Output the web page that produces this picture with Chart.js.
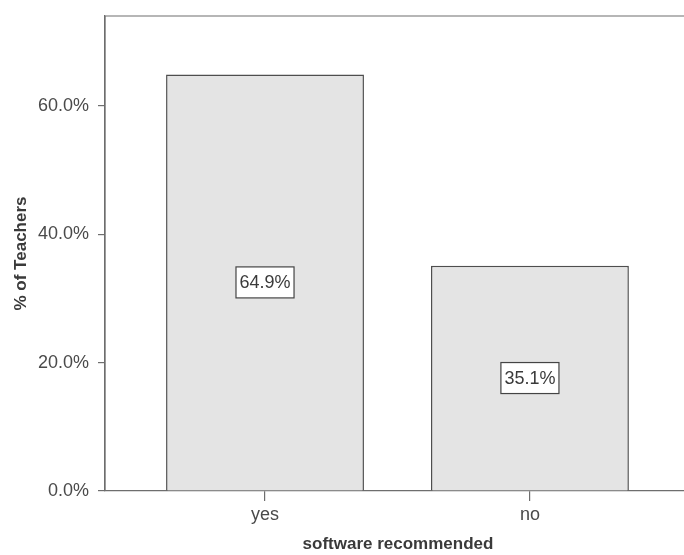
<!DOCTYPE html>
<html>
<head>
<meta charset="utf-8">
<script src="https://cdn.jsdelivr.net/npm/chart.js@4"></script>
<style>
  html, body { margin: 0; padding: 0; background: #fff; overflow: hidden; }
  #wrap { position: relative; width: 700px; height: 555px; }
</style>
</head>
<body>
<div id="wrap"><canvas id="c"></canvas></div>
<script>
// ---- data ----
const categories = ['yes', 'no'];
const percentValues = [64.9, 35.1];
const yTickValues = [0, 20, 40, 60];
const xTitle = 'software recommended';
const yTitle = '% of Teachers';

const FONT = '"Liberation Sans", Arial, sans-serif';
const TEXT = '#4a4a4a';
const LINE = '#6e6e6e';

const frame = {
  id: 'frame',
  afterDatasetsDraw(chart) {
    const a = chart.chartArea, ctx = chart.ctx;
    ctx.save();
    ctx.strokeStyle = LINE;
    ctx.lineWidth = 1.2;
    ctx.beginPath();
    ctx.moveTo(a.left, a.bottom);
    ctx.lineTo(a.left, a.top);
    ctx.lineTo(a.right, a.top);
    ctx.lineTo(a.right, a.bottom);
    ctx.stroke();
    // value labels in boxes
    const meta = chart.getDatasetMeta(0);
    ctx.font = '18px ' + FONT;
    ctx.textAlign = 'center';
    ctx.textBaseline = 'middle';
    meta.data.forEach((el, i) => {
      const txt = percentValues[i].toFixed(1) + '%';
      const w = ctx.measureText(txt).width + 7;
      const h = 31;
      const cx = el.x, cy = (el.y + el.base) / 2;
      ctx.fillStyle = '#ffffff';
      ctx.fillRect(cx - w / 2, cy - h / 2, w, h);
      ctx.strokeStyle = '#444';
      ctx.lineWidth = 1.2;
      ctx.strokeRect(cx - w / 2, cy - h / 2, w, h);
      ctx.fillStyle = '#3a3a3a';
      ctx.fillText(txt, cx, cy + 1);
    });
    ctx.restore();
  }
};

new Chart(document.getElementById('c'), {
  type: 'bar',
  data: {
    datasets: [{
      data: percentValues.map((v, i) => ({ x: i + 1, y: v })),
      backgroundColor: '#e4e4e4',
      borderColor: '#4e4e4e',
      borderWidth: 1.5,
      categoryPercentage: 1,
      barPercentage: 0.747
    }]
  },
  options: {
    responsive: true,
    maintainAspectRatio: false,
    animation: false,
    layout: { padding: { top: 16, right: 9, left: 0, bottom: 0 } },
    plugins: { legend: { display: false }, tooltip: { enabled: false } },
    scales: {
      x: {
        type: 'linear',
        offset: false,
        min: 0.396,
        max: 2.608,
        afterBuildTicks(s) { s.ticks = categories.map((c, i) => ({ value: i + 1 })); },
        afterFit(s) { s.height = 64; },
        grid: { offset: false, drawOnChartArea: false, tickLength: 10, color: LINE, lineWidth: 1.2 },
        border: { display: true, color: LINE, width: 1.2 },
        ticks: {
          color: TEXT, font: { family: FONT, size: 18 }, padding: 3,
          maxRotation: 0, autoSkip: false,
          callback: (v) => categories[v - 1] ?? ''
        },
        title: {
          display: true, text: xTitle, color: '#3a3a3a',
          font: { family: FONT, size: 17, weight: 'bold' },
          padding: { top: 0, bottom: 0 }
        }
      },
      y: {
        min: 0,
        max: 74,
        afterBuildTicks(s) { s.ticks = yTickValues.map(v => ({ value: v })); },
        afterFit(s) { s.width = 105; s.paddingTop = 0; s.paddingBottom = 0; },
        grid: { drawOnChartArea: false, tickLength: 7, color: LINE, lineWidth: 1.2 },
        border: { display: true, color: LINE, width: 1.2 },
        ticks: {
          color: TEXT, font: { family: FONT, size: 18 }, padding: 9,
          callback: (v) => v.toFixed(1) + '%'
        },
        title: {
          display: true, text: yTitle, color: '#3a3a3a',
          font: { family: FONT, size: 17, weight: 'bold' },
          padding: { top: 11, bottom: 0 }
        }
      }
    }
  },
  plugins: [frame]
});
</script>
</body>
</html>
